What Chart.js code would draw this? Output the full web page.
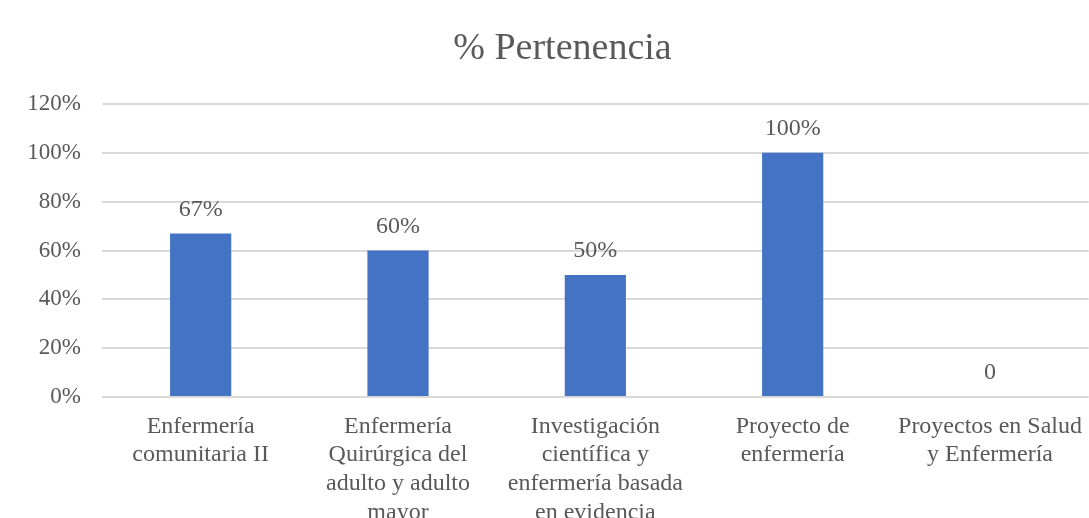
<!DOCTYPE html>
<html>
<head>
<meta charset="utf-8">
<script src="https://cdn.jsdelivr.net/npm/chart.js@4/dist/chart.umd.min.js"></script>
<style>
html,body{margin:0;padding:0;background:#fff;}
#wrap{width:1089px;height:518px;position:relative;}
</style>
</head>
<body>
<div id="wrap"><canvas id="chart"></canvas></div>
<script>
const chartTitle = "% Pertenencia";
const categories = [
  ["Enfermería", "comunitaria II"],
  ["Enfermería", "Quirúrgica del", "adulto y adulto", "mayor"],
  ["Investigación", "científica y", "enfermería basada", "en evidencia"],
  ["Proyecto de", "enfermería"],
  ["Proyectos en Salud", "y Enfermería"]
];
const values = [0.67, 0.60, 0.50, 1.00, 0];
const valueLabels = ["67%", "60%", "50%", "100%", "0"];
const yTicks = [0, 0.2, 0.4, 0.6, 0.8, 1.0, 1.2];

const textColor = "#595959";
const serif = "'Liberation Serif', 'Times New Roman', serif";

// title (slightly right of centre, as in the original crop) + labels above bars
const extraText = {
  id: "extraText",
  afterDatasetsDraw(chart) {
    const ctx = chart.ctx;
    const meta = chart.getDatasetMeta(0);
    ctx.save();
    ctx.fillStyle = textColor;
    ctx.textAlign = "center";

    ctx.font = "38px " + serif;
    ctx.textBaseline = "alphabetic";
    ctx.fillText(chartTitle, chart.width / 2 + 18, 59);

    ctx.font = "24px " + serif;
    ctx.textBaseline = "middle";
    meta.data.forEach((bar, i) => {
      ctx.fillText(valueLabels[i], bar.x, bar.y - 24);
    });
    ctx.restore();
  }
};

new Chart(document.getElementById("chart"), {
  type: "bar",
  data: {
    labels: categories,
    datasets: [{
      label: chartTitle,
      data: values,
      backgroundColor: "#4472C4",
      barPercentage: 0.62,
      categoryPercentage: 0.5
    }]
  },
  options: {
    responsive: true,
    maintainAspectRatio: false,
    animation: false,
    layout: { padding: { left: 0, right: 0, top: 104, bottom: 0 } },
    plugins: {
      legend: { display: false },
      tooltip: { enabled: false },
      title: { display: false }
    },
    scales: {
      x: {
        grid: { display: false },
        border: { display: false },
        ticks: {
          color: textColor,
          font: { family: serif, size: 24, lineHeight: 1.2 },
          maxRotation: 0,
          autoSkip: false,
          padding: 7
        },
        afterFit(scale) { scale.height = 121; }
      },
      y: {
        min: 0,
        max: 1.2,
        afterBuildTicks(scale) { scale.ticks = yTicks.map(v => ({ value: v })); },
        grid: { color: "#d9d9d9", lineWidth: 2, drawTicks: false },
        border: { display: false },
        ticks: {
          color: textColor,
          font: { family: serif, size: 23 },
          padding: 21,
          callback: v => Math.round(v * 100) + "%"
        },
        afterFit(scale) { scale.width = 102; }
      }
    }
  },
  plugins: [extraText]
});
</script>
</body>
</html>
